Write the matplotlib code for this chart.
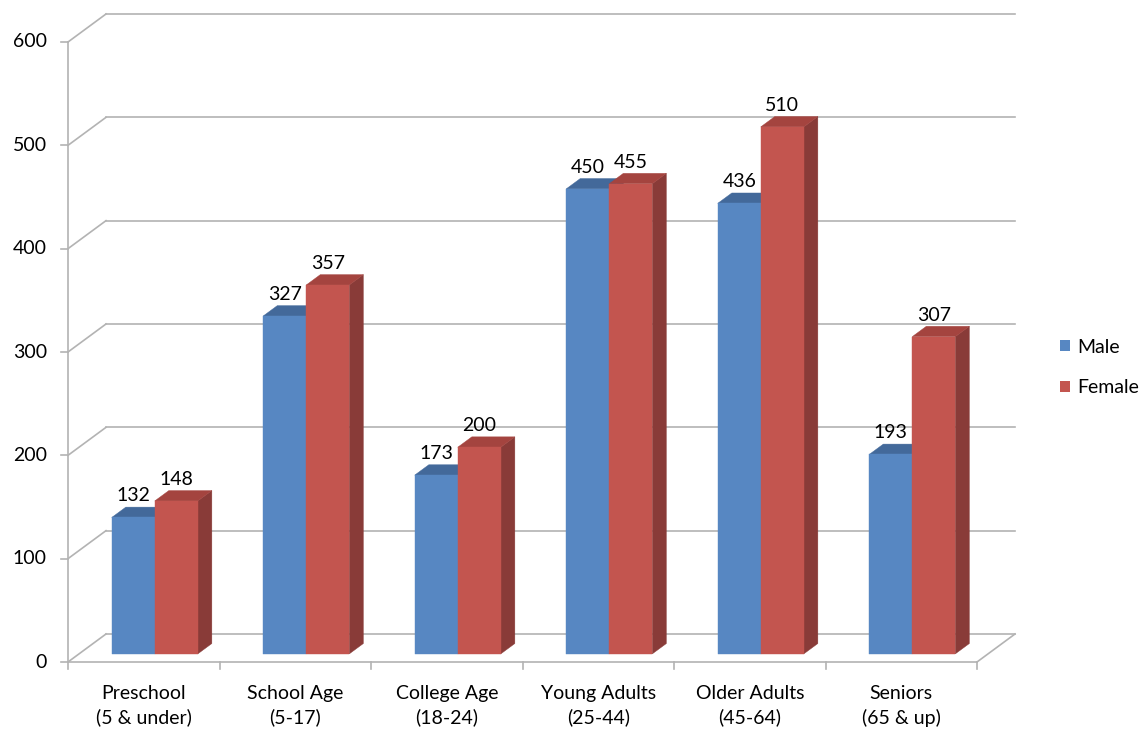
import matplotlib
matplotlib.use("Agg")
import matplotlib.pyplot as plt
from matplotlib.patches import Polygon, Patch

# ---------------- data ----------------
categories = ["Preschool\n(5 & under)", "School Age\n(5-17)", "College Age\n(18-24)",
              "Young Adults\n(25-44)", "Older Adults\n(45-64)", "Seniors\n(65 & up)"]
male = [132, 327, 173, 450, 436, 193]
female = [148, 357, 200, 455, 510, 307]
series_names = ["Male", "Female"]
y_ticks = [0, 100, 200, 300, 400, 500, 600]

# ---------------- style ----------------
plt.rcParams['font.family'] = ['Lato', 'DejaVu Sans']
FS = 14
male_cols = dict(front="#5787c2", top="#43699a", side="#3a5d88")
female_cols = dict(front="#c3554f", top="#a4443f", side="#893b38")
grid_col = "#b3b3b3"

W, H = 1145, 732
fig = plt.figure(figsize=(W / 100, H / 100), dpi=100)

# anchors (pixel layout of the front plane)
x0_px, y0_px = 68.0, 662.0
px_x = (977.0 - 68.0) / len(categories)
px_y = 620.0 / 600.0
xlim = (-0.3, 6.45)
ylim = (-62, 640)
left = x0_px + xlim[0] * px_x
right = x0_px + xlim[1] * px_x
bottom = y0_px - ylim[0] * px_y
top = y0_px - ylim[1] * px_y
ax = fig.add_axes([left / W, (H - bottom) / H, (right - left) / W, (bottom - top) / H])
ax.set_xlim(*xlim)
ax.set_ylim(*ylim)
ax.axis('off')

# depth vector (oblique projection) in data units
DX = 38.0 / px_x
DY = 28.0 / px_y
n = len(categories)
ymax = y_ticks[-1]

# back wall gridlines + left wall diagonals
for v in y_ticks:
    ax.plot([DX, n + DX], [v + DY, v + DY], color=grid_col, lw=1.2, zorder=1)
    ax.plot([0, DX], [v, v + DY], color=grid_col, lw=1.2, zorder=1)
    ax.plot([-0.045, 0], [v, v], color=grid_col, lw=1.2, zorder=1)
    ax.text(-0.14, v, str(v), ha='right', va='center', fontsize=FS, color='#000000')
# front vertical axis
ax.plot([0, 0], [0, ymax], color=grid_col, lw=1.2, zorder=1)
# floor
ax.plot([0, n], [0, 0], color=grid_col, lw=1.2, zorder=1)
ax.plot([n, n + DX], [0, DY], color=grid_col, lw=1.2, zorder=1)
for i in range(n + 1):
    ax.plot([i, i], [0, -7], color=grid_col, lw=1.2, zorder=1)
for i, c in enumerate(categories):
    ax.text(i + 0.5, -22, c, ha='center', va='top', fontsize=FS, linespacing=1.45)

# bars
d0, d1 = 0.29, 0.66
bw = 0.284


def draw_bar(xl, v, cols):
    xr = xl + bw
    front = [(xl + d0 * DX, d0 * DY), (xr + d0 * DX, d0 * DY),
             (xr + d0 * DX, v + d0 * DY), (xl + d0 * DX, v + d0 * DY)]
    topf = [(xl + d0 * DX, v + d0 * DY), (xr + d0 * DX, v + d0 * DY),
            (xr + d1 * DX, v + d1 * DY), (xl + d1 * DX, v + d1 * DY)]
    side = [(xr + d0 * DX, d0 * DY), (xr + d1 * DX, d1 * DY),
            (xr + d1 * DX, v + d1 * DY), (xr + d0 * DX, v + d0 * DY)]
    for pts, c in ((side, cols['side']), (topf, cols['top']), (front, cols['front'])):
        ax.add_patch(Polygon(pts, closed=True, facecolor=c, edgecolor=c, lw=0.3, zorder=3))
    ax.annotate(str(v), xy=(xl + bw / 2 + d0 * DX, v + d1 * DY), xytext=(0, 2),
                textcoords='offset points', ha='center', va='bottom', fontsize=FS, zorder=5)


for i in range(n):
    c = i + 0.5
    draw_bar(c - bw, male[i], male_cols)
    draw_bar(c, female[i], female_cols)

handles = [Patch(facecolor=male_cols['front']), Patch(facecolor=female_cols['front'])]
fig.legend(handles, series_names, loc='center left', bbox_to_anchor=(1060 / W, 1 - 367.5 / H),
           frameon=False, fontsize=FS, handlelength=0.5, handleheight=0.5, handletextpad=0.4,
           labelspacing=1.2, borderpad=0, borderaxespad=0)

fig.savefig("out.png", dpi=100)
